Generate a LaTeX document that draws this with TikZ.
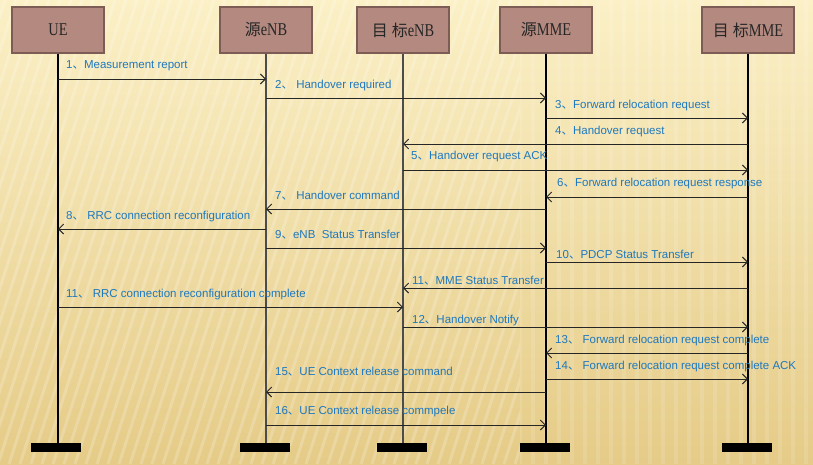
\documentclass[tikz,border=0pt]{standalone}
\usepackage{fontspec}
\setmainfont{Liberation Sans}
\newfontfamily\cjk{Noto Sans CJK SC}
\newfontfamily\serifb{Liberation Serif}
\usetikzlibrary{arrows.meta}
\definecolor{boxfill}{RGB}{180,138,128}
\definecolor{boxedge}{RGB}{125,92,85}
\definecolor{lbl}{RGB}{30,120,190}
\definecolor{bgtop}{RGB}{251,240,198}
\definecolor{bgbot}{RGB}{229,203,135}
\newcommand\dn{{\cjk 、}}
\newcommand\lat[1]{\scalebox{0.8}[1]{\serifb #1}}
\newcommand\hz[1]{{\cjk\fontsize{16}{16}\selectfont #1}}
\newcommand\sqmsg[6]{%
  \coordinate (y#3) at (0,#3);
  \draw[msg] (#1 |- y#3) -- (#2 |- y#3);
  \node[lab] (l#3) at (#4,#5) {#6};}
\begin{document}
\begin{tikzpicture}[x=1pt,y=-1pt,
  actor/.style={draw=boxedge,line width=2pt,fill=boxfill,minimum width=92pt,minimum height=46pt,inner sep=0pt,text=black!85,font=\fontsize{18}{18}\selectfont},
  bar/.style={fill=black,minimum width=50pt,minimum height=9pt,inner sep=0pt},
  life/.style={line width=1.1pt,draw=#1},
  msg/.style={line width=0.9pt,draw=black!85,-{Straight Barb[length=5pt,width=10pt,line width=0.9pt]}},
  lab/.style={anchor=base west,inner sep=0pt,text=lbl,font=\fontsize{11.5}{13}\selectfont}]
% background
\useasboundingbox (0,0) rectangle (813,464);
\fill[top color=bgtop,bottom color=bgbot] (0,0) rectangle (813,464);
\begin{scope}
  \clip (0,0) rectangle (520,464);
  \foreach \i in {-200,-189,...,620} \draw[white,opacity=0.2,line width=3pt] (\i,464) -- (\i+150,0);
\end{scope}
\begin{scope}
  \clip (520,0) rectangle (813,464);
  \foreach \i in {520,533,...,813} \draw[white,opacity=0.13,line width=4pt] (\i,464) -- (\i,0);
\end{scope}
% actors
\node[actor] (ue)   at (58,30)  {\lat{UE}};
\node[actor] (senb) at (266,30) {\hz{源}\lat{eNB}};
\node[actor] (tenb) at (403,30) {\hz{目\hspace{4pt}标}\lat{eNB}};
\node[actor] (smme) at (546,30) {\hz{源}\lat{MME}};
\node[actor] (tmme) at (748,30) {\hz{目\hspace{4pt}标}\lat{MME}};
% bars
\node[bar] (bue)   at (56,447.5)  {};
\node[bar] (bsenb) at (265,447.5) {};
\node[bar] (btenb) at (402,447.5) {};
\node[bar] (bsmme) at (545,447.5) {};
\node[bar] (btmme) at (747,447.5) {};
% lifelines
\draw[life=black]    (ue.south)   -- (ue.south |- bue.north);
\draw[life=black!70] (senb.south) -- (senb.south |- bsenb.north);
\draw[life=black!70] (tenb.south) -- (tenb.south |- btenb.north);
\draw[life=black]    (smme.south) -- (smme.south |- bsmme.north);
\draw[life=black]    (tmme.south) -- (tmme.south |- btmme.north);
% messages
\sqmsg{ue}{senb}{79}{66}{68.5}{1\dn Measurement report}
\sqmsg{senb}{smme}{98}{275}{88}{2\dn\ Handover required}
\sqmsg{smme}{tmme}{118}{555}{108}{3\dn Forward relocation request}
\sqmsg{tmme}{tenb}{144}{555}{134}{4\dn Handover request}
\sqmsg{tenb}{tmme}{170}{411}{159.5}{5\dn Handover request ACK}
\sqmsg{tmme}{smme}{197}{557}{186}{6\dn Forward relocation request response}
\sqmsg{smme}{senb}{209}{275}{199}{7\dn\ Handover command}
\sqmsg{senb}{ue}{229}{66}{219}{8\dn\ RRC connection reconfiguration}
\sqmsg{senb}{smme}{248}{275}{238}{9\dn eNB\ \ Status Transfer}
\sqmsg{smme}{tmme}{262}{556}{258}{10\dn PDCP Status Transfer}
\sqmsg{tmme}{tenb}{288}{412}{284}{11\dn MME Status Transfer}
\sqmsg{ue}{tenb}{307}{66}{297}{11\dn\ RRC connection reconfiguration complete}
\sqmsg{tenb}{tmme}{327}{412}{323}{12\dn Handover Notify}
\sqmsg{tmme}{smme}{353}{555}{343}{13\dn\ Forward relocation request complete}
\sqmsg{smme}{tmme}{379}{555}{369}{14\dn\ Forward relocation request complete ACK}
\sqmsg{smme}{senb}{392}{275}{375}{15\dn UE Context release command}
\sqmsg{senb}{smme}{425}{275}{414}{16\dn UE Context release commpele}
\end{tikzpicture}
\end{document}
